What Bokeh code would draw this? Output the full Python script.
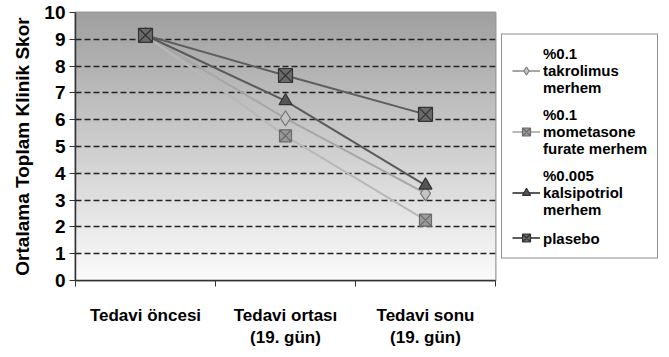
import numpy as np
from bokeh.plotting import figure
from bokeh.models import FixedTicker, Legend, LegendItem
from bokeh.embed import file_html
from bokeh.resources import INLINE

categories = ["Tedavi öncesi", "Tedavi ortası\n(19. gün)", "Tedavi sonu\n(19. gün)"]
takrolimus = [9.15, 6.05, 3.25]
mometasone = [9.15, 5.4, 2.25]
kalsipotriol = [9.15, 6.7, 3.55]
plasebo = [9.15, 7.65, 6.2]
series_names = ["%0.1\ntakrolimus\nmerhem", "%0.1\nmometasone\nfurate merhem",
                "%0.005\nkalsipotriol\nmerhem", "plasebo"]
y_ticks = list(range(0, 11))
y_title = "Ortalama Toplam Klinik Skor"

FONT = "Liberation Sans"
x = [i + 0.5 for i in range(len(categories))]
ncat = len(categories)

p = figure(frame_width=420, frame_height=268, x_range=(0, ncat), y_range=(0, 10),
           output_backend="svg", toolbar_location=None,
           min_border_left=75, min_border_right=0, min_border_top=12, min_border_bottom=61)
p.background_fill_color = "white"
p.border_fill_color = "white"
p.outline_line_color = "#999999"
p.outline_line_width = 2

# gradient background
n = 200
t = np.linspace(0, 1, n)
top = np.array([160, 160, 160]); bot = np.array([252, 252, 252])
cols = (bot[None, :] * (1 - t[:, None]) + top[None, :] * t[:, None]).astype(np.uint32)
img = np.zeros((n, 1), dtype=np.uint32)
view = img.view(dtype=np.uint8).reshape((n, 1, 4))
view[:, 0, 0] = cols[:, 0]; view[:, 0, 1] = cols[:, 1]; view[:, 0, 2] = cols[:, 2]; view[:, 0, 3] = 255
p.image_rgba(image=[img], x=0, y=0, dw=ncat, dh=10, level="image")

# grid
p.xgrid.visible = False
p.ygrid.ticker = FixedTicker(ticks=y_ticks)
p.ygrid.grid_line_color = "#222222"
p.ygrid.grid_line_width = 1.5
p.ygrid.grid_line_dash = "6 3"
p.ygrid.level = "underlay"

# axes
p.yaxis.ticker = FixedTicker(ticks=y_ticks)
p.yaxis.axis_label = y_title
p.yaxis.axis_label_text_font = FONT
p.yaxis.axis_label_text_font_style = "bold"
p.yaxis.axis_label_text_font_size = "19px"
p.yaxis.axis_label_text_color = "black"
p.yaxis.axis_label_standoff = 8
p.yaxis.major_label_text_font = FONT
p.yaxis.major_label_text_font_style = "bold"
p.yaxis.major_label_text_font_size = "19px"
p.yaxis.major_label_text_color = "black"
p.yaxis.major_label_standoff = 4
p.yaxis.major_tick_in = 0
p.yaxis.major_tick_out = 6
p.yaxis.minor_tick_line_color = None
p.yaxis.axis_line_color = "#333333"
p.yaxis.axis_line_width = 1.5
p.yaxis.major_tick_line_color = "#333333"

p.xaxis.ticker = FixedTicker(ticks=x, minor_ticks=list(range(ncat + 1)))
p.xaxis.major_label_overrides = {xv: c for xv, c in zip(x, categories)}
p.xaxis.major_tick_in = 0
p.xaxis.major_tick_out = 0
p.xaxis.minor_tick_in = 0
p.xaxis.minor_tick_out = 6
p.xaxis.minor_tick_line_color = "#333333"
p.xaxis.axis_line_color = "#333333"
p.xaxis.axis_line_width = 1.5
p.xaxis.major_label_standoff = 19
p.xaxis.major_label_text_font = FONT
p.xaxis.major_label_text_font_style = "bold"
p.xaxis.major_label_text_font_size = "17px"
p.xaxis.major_label_text_line_height = 1.2
p.xaxis.major_label_text_color = "black"

styles = [
    (takrolimus, "#a6a6a6", "diamond", "#c4c4c4", "#7a7a7a", 15),
    (mometasone, "#b8b8b8", "square_x", "#9a9a9a", "#6a6a6a", 12),
    (kalsipotriol, "#5a5a5a", "triangle", "#555555", "#333333", 13),
    (plasebo, "#5e5e5e", "square_x", "#6a6a6a", "#333333", 14),
]
items = []
for (vals, lc, mk, fc, oc, sz), name in zip(styles, series_names):
    r1 = p.line(x, vals, line_color=lc, line_width=2)
    r2 = p.scatter(x, vals, marker=mk, size=sz, fill_color=fc, line_color=oc, line_width=1.2)
    items.append(LegendItem(label=name, renderers=[r1, r2]))

legend = Legend(items=items, location="center_left")
legend.border_line_color = "#222222"
legend.border_line_width = 1
legend.background_fill_color = "white"
legend.background_fill_alpha = 1
legend.label_text_font = FONT
legend.label_text_font_style = "bold"
legend.label_text_font_size = "15px"
legend.label_text_color = "black"
legend.label_text_line_height = 0.88
legend.glyph_width = 28
legend.label_standoff = 3
legend.spacing = 10
legend.padding = 10
legend.margin = 6
p.add_layout(legend, "right")

open("out.html", "w").write(file_html(p, INLINE))
